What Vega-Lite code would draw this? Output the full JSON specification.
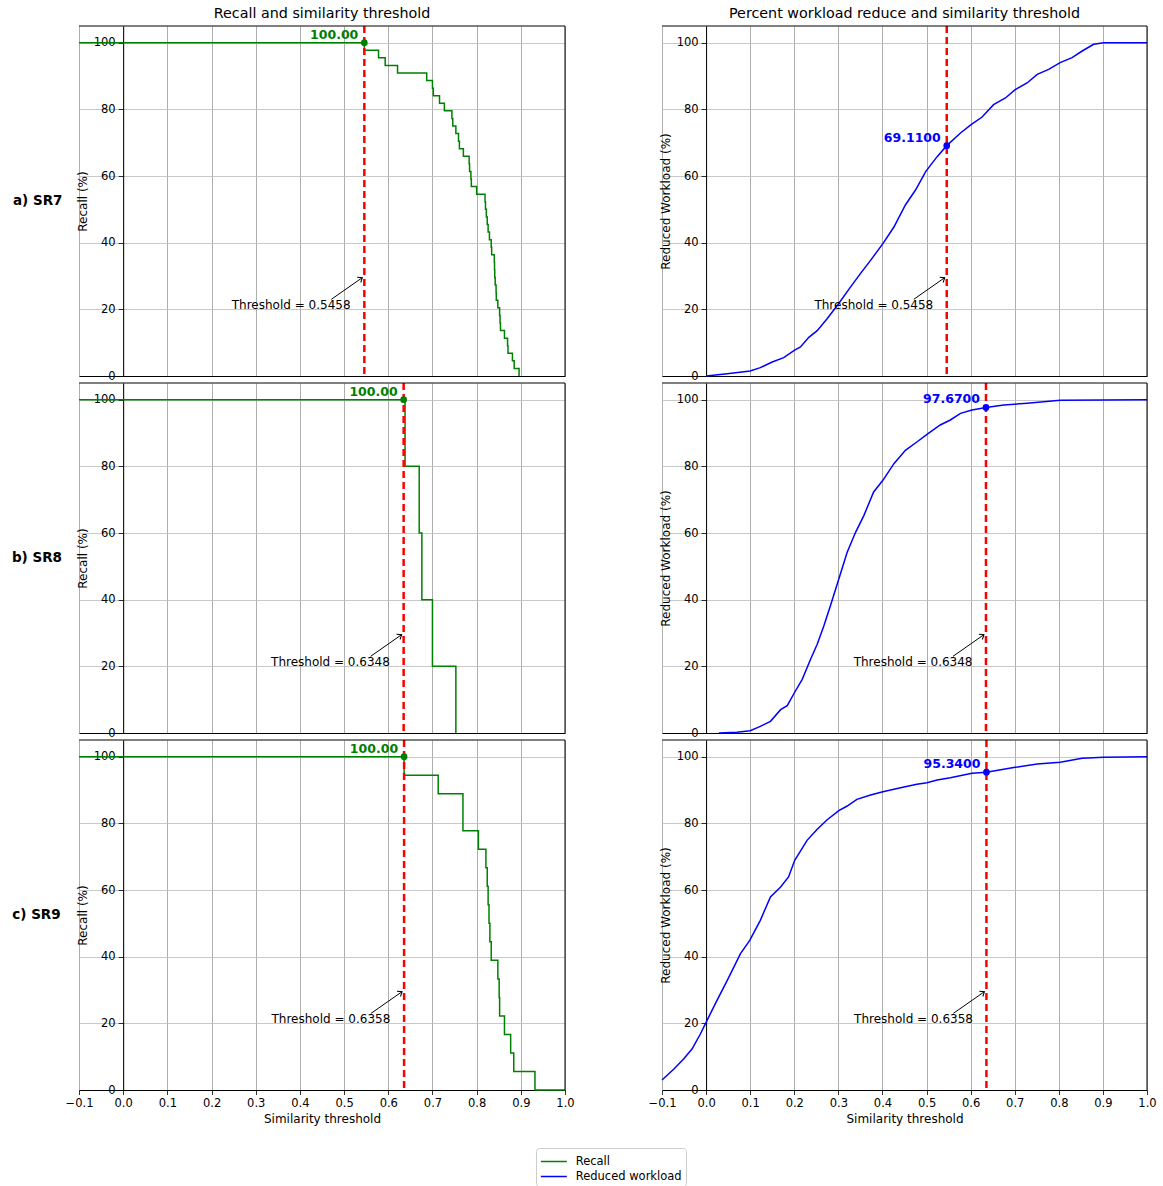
{
  "$schema": "https://vega.github.io/schema/vega-lite/v6.json",
  "padding": {"left": 11, "top": 6, "right": 8, "bottom": 5},
  "background": "white",
  "datasets": {
    "recall": [
      {"sr": "SR7", "x": -0.1, "y": 100}, {"sr": "SR7", "x": 0.5458, "y": 97.73}, {"sr": "SR7", "x": 0.578, "y": 95.45},
      {"sr": "SR7", "x": 0.593, "y": 93.18}, {"sr": "SR7", "x": 0.621, "y": 90.91}, {"sr": "SR7", "x": 0.687, "y": 88.64},
      {"sr": "SR7", "x": 0.700, "y": 86.36}, {"sr": "SR7", "x": 0.702, "y": 84.09}, {"sr": "SR7", "x": 0.716, "y": 81.82},
      {"sr": "SR7", "x": 0.727, "y": 79.55}, {"sr": "SR7", "x": 0.744, "y": 77.27}, {"sr": "SR7", "x": 0.746, "y": 75.0},
      {"sr": "SR7", "x": 0.753, "y": 72.73}, {"sr": "SR7", "x": 0.759, "y": 70.45}, {"sr": "SR7", "x": 0.761, "y": 68.18},
      {"sr": "SR7", "x": 0.770, "y": 65.91}, {"sr": "SR7", "x": 0.783, "y": 63.64}, {"sr": "SR7", "x": 0.784, "y": 61.36},
      {"sr": "SR7", "x": 0.787, "y": 59.09}, {"sr": "SR7", "x": 0.788, "y": 56.82}, {"sr": "SR7", "x": 0.800, "y": 54.55},
      {"sr": "SR7", "x": 0.819, "y": 52.27}, {"sr": "SR7", "x": 0.820, "y": 50.0}, {"sr": "SR7", "x": 0.822, "y": 47.73},
      {"sr": "SR7", "x": 0.824, "y": 45.45}, {"sr": "SR7", "x": 0.826, "y": 43.18}, {"sr": "SR7", "x": 0.829, "y": 40.91},
      {"sr": "SR7", "x": 0.833, "y": 38.64}, {"sr": "SR7", "x": 0.834, "y": 36.36}, {"sr": "SR7", "x": 0.840, "y": 34.09},
      {"sr": "SR7", "x": 0.8405, "y": 31.82}, {"sr": "SR7", "x": 0.841, "y": 29.55}, {"sr": "SR7", "x": 0.842, "y": 27.27},
      {"sr": "SR7", "x": 0.844, "y": 25.0}, {"sr": "SR7", "x": 0.8445, "y": 22.73}, {"sr": "SR7", "x": 0.848, "y": 20.45},
      {"sr": "SR7", "x": 0.852, "y": 18.18}, {"sr": "SR7", "x": 0.853, "y": 15.91}, {"sr": "SR7", "x": 0.854, "y": 13.64},
      {"sr": "SR7", "x": 0.863, "y": 11.36}, {"sr": "SR7", "x": 0.870, "y": 9.09}, {"sr": "SR7", "x": 0.871, "y": 6.82},
      {"sr": "SR7", "x": 0.881, "y": 4.55}, {"sr": "SR7", "x": 0.885, "y": 2.27}, {"sr": "SR7", "x": 0.896, "y": 0},
      {"sr": "SR8", "x": -0.1, "y": 100}, {"sr": "SR8", "x": 0.638, "y": 80}, {"sr": "SR8", "x": 0.670, "y": 60},
      {"sr": "SR8", "x": 0.676, "y": 40}, {"sr": "SR8", "x": 0.700, "y": 20}, {"sr": "SR8", "x": 0.753, "y": 0},
      {"sr": "SR9", "x": -0.1, "y": 100}, {"sr": "SR9", "x": 0.6358, "y": 94.44}, {"sr": "SR9", "x": 0.713, "y": 88.89},
      {"sr": "SR9", "x": 0.769, "y": 77.78}, {"sr": "SR9", "x": 0.804, "y": 72.22}, {"sr": "SR9", "x": 0.821, "y": 66.67},
      {"sr": "SR9", "x": 0.824, "y": 61.11}, {"sr": "SR9", "x": 0.826, "y": 55.56}, {"sr": "SR9", "x": 0.828, "y": 50.0},
      {"sr": "SR9", "x": 0.830, "y": 44.44}, {"sr": "SR9", "x": 0.833, "y": 38.89}, {"sr": "SR9", "x": 0.848, "y": 33.33},
      {"sr": "SR9", "x": 0.851, "y": 27.78}, {"sr": "SR9", "x": 0.852, "y": 22.22}, {"sr": "SR9", "x": 0.863, "y": 16.67},
      {"sr": "SR9", "x": 0.877, "y": 11.11}, {"sr": "SR9", "x": 0.884, "y": 5.56}, {"sr": "SR9", "x": 0.932, "y": 0},
      {"sr": "SR9", "x": 1.0, "y": 0}
    ],
    "work": [
      {"sr": "SR7", "x": 0.0, "y": 0}, {"sr": "SR7", "x": 0.048, "y": 0.7}, {"sr": "SR7", "x": 0.1, "y": 1.5},
      {"sr": "SR7", "x": 0.123, "y": 2.5}, {"sr": "SR7", "x": 0.15, "y": 4.2}, {"sr": "SR7", "x": 0.176, "y": 5.5},
      {"sr": "SR7", "x": 0.2, "y": 7.7}, {"sr": "SR7", "x": 0.214, "y": 8.7}, {"sr": "SR7", "x": 0.233, "y": 11.6},
      {"sr": "SR7", "x": 0.252, "y": 13.6}, {"sr": "SR7", "x": 0.274, "y": 17.1}, {"sr": "SR7", "x": 0.3, "y": 21.6},
      {"sr": "SR7", "x": 0.327, "y": 26.6}, {"sr": "SR7", "x": 0.35, "y": 30.7}, {"sr": "SR7", "x": 0.373, "y": 34.7},
      {"sr": "SR7", "x": 0.401, "y": 39.7}, {"sr": "SR7", "x": 0.426, "y": 44.7}, {"sr": "SR7", "x": 0.452, "y": 51.3},
      {"sr": "SR7", "x": 0.475, "y": 55.8}, {"sr": "SR7", "x": 0.498, "y": 61.3}, {"sr": "SR7", "x": 0.524, "y": 65.8},
      {"sr": "SR7", "x": 0.5458, "y": 69.11}, {"sr": "SR7", "x": 0.577, "y": 72.9}, {"sr": "SR7", "x": 0.601, "y": 75.4},
      {"sr": "SR7", "x": 0.626, "y": 77.7}, {"sr": "SR7", "x": 0.652, "y": 81.4}, {"sr": "SR7", "x": 0.679, "y": 83.4},
      {"sr": "SR7", "x": 0.701, "y": 85.9}, {"sr": "SR7", "x": 0.728, "y": 87.9}, {"sr": "SR7", "x": 0.751, "y": 90.5},
      {"sr": "SR7", "x": 0.777, "y": 92.0}, {"sr": "SR7", "x": 0.803, "y": 94.0}, {"sr": "SR7", "x": 0.83, "y": 95.5},
      {"sr": "SR7", "x": 0.853, "y": 97.5}, {"sr": "SR7", "x": 0.879, "y": 99.5}, {"sr": "SR7", "x": 0.902, "y": 100},
      {"sr": "SR7", "x": 1.0, "y": 100},
      {"sr": "SR8", "x": 0.029, "y": 0}, {"sr": "SR8", "x": 0.07, "y": 0.2}, {"sr": "SR8", "x": 0.1, "y": 0.7},
      {"sr": "SR8", "x": 0.123, "y": 2.0}, {"sr": "SR8", "x": 0.146, "y": 3.5}, {"sr": "SR8", "x": 0.169, "y": 7.0},
      {"sr": "SR8", "x": 0.184, "y": 8.2}, {"sr": "SR8", "x": 0.2, "y": 12.0}, {"sr": "SR8", "x": 0.218, "y": 16.1},
      {"sr": "SR8", "x": 0.237, "y": 22.1}, {"sr": "SR8", "x": 0.252, "y": 26.6}, {"sr": "SR8", "x": 0.267, "y": 32.1},
      {"sr": "SR8", "x": 0.282, "y": 38.2}, {"sr": "SR8", "x": 0.301, "y": 46.2}, {"sr": "SR8", "x": 0.32, "y": 54.2},
      {"sr": "SR8", "x": 0.339, "y": 60.2}, {"sr": "SR8", "x": 0.358, "y": 65.3}, {"sr": "SR8", "x": 0.38, "y": 72.3},
      {"sr": "SR8", "x": 0.401, "y": 75.8}, {"sr": "SR8", "x": 0.426, "y": 80.8}, {"sr": "SR8", "x": 0.452, "y": 84.8},
      {"sr": "SR8", "x": 0.478, "y": 87.3}, {"sr": "SR8", "x": 0.501, "y": 89.6}, {"sr": "SR8", "x": 0.531, "y": 92.4},
      {"sr": "SR8", "x": 0.554, "y": 93.9}, {"sr": "SR8", "x": 0.577, "y": 95.9}, {"sr": "SR8", "x": 0.603, "y": 96.9},
      {"sr": "SR8", "x": 0.6348, "y": 97.67}, {"sr": "SR8", "x": 0.675, "y": 98.4}, {"sr": "SR8", "x": 0.728, "y": 98.9},
      {"sr": "SR8", "x": 0.803, "y": 99.8}, {"sr": "SR8", "x": 1.0, "y": 100},
      {"sr": "SR9", "x": -0.1, "y": 3.0}, {"sr": "SR9", "x": -0.073, "y": 6.3}, {"sr": "SR9", "x": -0.051, "y": 9.3},
      {"sr": "SR9", "x": -0.032, "y": 12.3}, {"sr": "SR9", "x": -0.013, "y": 16.8}, {"sr": "SR9", "x": 0.0, "y": 20.3},
      {"sr": "SR9", "x": 0.021, "y": 25.9}, {"sr": "SR9", "x": 0.048, "y": 32.9}, {"sr": "SR9", "x": 0.078, "y": 40.9},
      {"sr": "SR9", "x": 0.099, "y": 44.9}, {"sr": "SR9", "x": 0.123, "y": 50.9}, {"sr": "SR9", "x": 0.146, "y": 57.9},
      {"sr": "SR9", "x": 0.169, "y": 60.9}, {"sr": "SR9", "x": 0.187, "y": 63.9}, {"sr": "SR9", "x": 0.201, "y": 68.9},
      {"sr": "SR9", "x": 0.229, "y": 74.9}, {"sr": "SR9", "x": 0.252, "y": 78.2}, {"sr": "SR9", "x": 0.274, "y": 81.0},
      {"sr": "SR9", "x": 0.301, "y": 83.8}, {"sr": "SR9", "x": 0.32, "y": 85.2}, {"sr": "SR9", "x": 0.342, "y": 87.2},
      {"sr": "SR9", "x": 0.373, "y": 88.5}, {"sr": "SR9", "x": 0.401, "y": 89.5}, {"sr": "SR9", "x": 0.441, "y": 90.7},
      {"sr": "SR9", "x": 0.478, "y": 91.7}, {"sr": "SR9", "x": 0.501, "y": 92.2}, {"sr": "SR9", "x": 0.524, "y": 93.0},
      {"sr": "SR9", "x": 0.554, "y": 93.7}, {"sr": "SR9", "x": 0.603, "y": 95.0}, {"sr": "SR9", "x": 0.6358, "y": 95.34},
      {"sr": "SR9", "x": 0.701, "y": 96.8}, {"sr": "SR9", "x": 0.751, "y": 97.8}, {"sr": "SR9", "x": 0.803, "y": 98.3},
      {"sr": "SR9", "x": 0.853, "y": 99.5}, {"sr": "SR9", "x": 0.902, "y": 99.8}, {"sr": "SR9", "x": 1.0, "y": 100}
    ],
    "thr": [
      {"sr": "SR7", "thr": 0.5458, "recall": 100, "work": 69.11, "label": "Threshold = 0.5458", "rtext": "100.00", "wtext": "69.1100"},
      {"sr": "SR8", "thr": 0.6348, "recall": 100, "work": 97.67, "label": "Threshold = 0.6348", "rtext": "100.00", "wtext": "97.6700"},
      {"sr": "SR9", "thr": 0.6358, "recall": 100, "work": 95.34, "label": "Threshold = 0.6358", "rtext": "100.00", "wtext": "95.3400"}
    ]
  },
  "columns": 2,
  "spacing": {"row": 7, "column": 97},
  "bounds": "flush",
  "concat": [
    {"width": 486, "height": 1, "data": {"values": []}, "mark": "point", "title": {"text": "Recall and similarity threshold", "offset": -3, "anchor": "middle"}},
    {"width": 485, "height": 1, "data": {"values": []}, "mark": "point", "title": {"text": "Percent workload reduce and similarity threshold", "offset": -3, "anchor": "middle"}},

    {"width": 486, "height": 350,
     "title": {"text": "a) SR7", "orient": "left", "angle": 0, "align": "right", "baseline": "middle", "anchor": "middle", "frame": "group", "offset": -36, "fontWeight": "bold", "fontSize": 13.5},
     "layer": [
      {"data": {"name": "recall"}, "transform": [{"filter": "datum.sr == 'SR7'"}],
       "mark": {"type": "line", "interpolate": "step-after", "strokeWidth": 1.5},
       "encoding": {
        "x": {"field": "x", "type": "quantitative", "scale": {"domain": [-0.1, 1.0], "nice": false, "zero": false},
              "axis": {"values": [-0.1,-0.05,0,0.05,0.1,0.15,0.2,0.25,0.3,0.35,0.4,0.45,0.5,0.55,0.6,0.65,0.7,0.75,0.8,0.85,0.9,0.95,1], "labels": false, "ticks": false, "title": null,
                       "gridDash": {"condition": {"test": "round(abs(datum.value)*20) % 2 == 1", "value": [1.5, 1.5]}, "value": []},
                       "gridColor": {"condition": {"test": "round(abs(datum.value)*20) % 2 == 1", "value": "#cccccc"}, "value": "#999999"}}},
        "y": {"field": "y", "type": "quantitative", "scale": {"domain": [0, 105], "nice": false},
              "axis": {"values": [0,10,20,30,40,50,60,70,80,90,100], "labelExpr": "datum.value % 20 == 0 ? datum.label : ''", "offset": -44.18, "title": "Recall (%)",
                       "gridDash": {"condition": {"test": "datum.value % 20 != 0", "value": [1.5, 1.5]}, "value": []},
                       "gridColor": {"condition": {"test": "datum.value % 20 != 0", "value": "#cccccc"}, "value": "#bbbbbb"},
                       "tickSize": {"condition": {"test": "datum.value % 20 != 0", "value": 3}, "value": 5}}},
        "color": {"datum": "Recall", "scale": {"domain": ["Recall", "Reduced workload"], "range": ["green", "blue"]},
                  "legend": {"orient": "none", "legendX": 457, "legendY": 1130, "title": null, "symbolType": "M-1,0L2,0", "symbolStrokeWidth": 1.5, "symbolSize": 300, "labelFontSize": 11.5, "labelFont": "DejaVu Sans", "strokeColor": "#cccccc", "fillColor": "#ffffff", "padding": 4, "cornerRadius": 3, "rowPadding": 0, "labelOffset": 16.7}}
       }},
      {"data": {"name": "thr"}, "transform": [{"filter": "datum.sr == 'SR7'"}], "mark": {"type": "rule", "color": "red", "strokeWidth": 2.5, "strokeDash": [7, 4]}, "encoding": {"x": {"field": "thr", "type": "quantitative"}}},
      {"data": {"name": "thr"}, "transform": [{"filter": "datum.sr == 'SR7'"}], "mark": {"type": "point", "filled": true, "color": "green", "size": 45, "opacity": 1}, "encoding": {"x": {"field": "thr", "type": "quantitative"}, "y": {"field": "recall", "type": "quantitative"}}},
      {"data": {"name": "thr"}, "transform": [{"filter": "datum.sr == 'SR7'"}], "mark": {"type": "text", "align": "right", "baseline": "middle", "dx": -6, "dy": -8, "fontSize": 12.5, "fontWeight": "bold", "color": "green"}, "encoding": {"x": {"field": "thr", "type": "quantitative"}, "y": {"field": "recall", "type": "quantitative"}, "text": {"field": "rtext"}}},
      {"data": {"name": "thr"}, "transform": [{"filter": "datum.sr == 'SR7'"}], "mark": {"type": "rule", "color": "black", "strokeWidth": 1, "xOffset": -33, "x2Offset": -2}, "encoding": {"x": {"field": "thr", "type": "quantitative"}, "x2": {"field": "thr"}, "y": {"datum": 23, "type": "quantitative"}, "y2": {"datum": 29.5}}},
      {"data": {"name": "thr"}, "transform": [{"filter": "datum.sr == 'SR7'"}], "mark": {"type": "point", "shape": "M-0.7,0.9L0,0L0.7,0.9", "filled": false, "color": "black", "strokeWidth": 1, "size": 80, "angle": 56, "xOffset": -2, "opacity": 1}, "encoding": {"x": {"field": "thr", "type": "quantitative"}, "y": {"datum": 29.5, "type": "quantitative"}}},
      {"data": {"name": "thr"}, "transform": [{"filter": "datum.sr == 'SR7'"}], "mark": {"type": "text", "align": "left", "baseline": "alphabetic", "dx": -132.6, "fontSize": 12, "color": "black"}, "encoding": {"x": {"field": "thr", "type": "quantitative"}, "y": {"datum": 20, "type": "quantitative"}, "text": {"field": "label"}}},
      {"data": {"values": [{}]}, "mark": {"type": "rule", "color": "black", "strokeWidth": 1}, "encoding": {"y": {"datum": 105, "type": "quantitative"}}},
      {"data": {"values": [{}]}, "mark": {"type": "rule", "color": "black", "strokeWidth": 1}, "encoding": {"x": {"datum": 1.0, "type": "quantitative"}}}
     ]},

    {"width": 485, "height": 350,
     "layer": [
      {"data": {"name": "work"}, "transform": [{"filter": "datum.sr == 'SR7'"}],
       "mark": {"type": "line", "strokeWidth": 1.5},
       "encoding": {
        "x": {"field": "x", "type": "quantitative", "scale": {"domain": [-0.1, 1.0], "nice": false, "zero": false},
              "axis": {"values": [-0.1,-0.05,0,0.05,0.1,0.15,0.2,0.25,0.3,0.35,0.4,0.45,0.5,0.55,0.6,0.65,0.7,0.75,0.8,0.85,0.9,0.95,1], "labels": false, "ticks": false, "title": null,
                       "gridDash": {"condition": {"test": "round(abs(datum.value)*20) % 2 == 1", "value": [1.5, 1.5]}, "value": []},
                       "gridColor": {"condition": {"test": "round(abs(datum.value)*20) % 2 == 1", "value": "#cccccc"}, "value": "#999999"}}},
        "y": {"field": "y", "type": "quantitative", "scale": {"domain": [0, 105], "nice": false},
              "axis": {"values": [0,10,20,30,40,50,60,70,80,90,100], "labelExpr": "datum.value % 20 == 0 ? datum.label : ''", "offset": -44.09, "title": "Reduced Workload (%)",
                       "gridDash": {"condition": {"test": "datum.value % 20 != 0", "value": [1.5, 1.5]}, "value": []},
                       "gridColor": {"condition": {"test": "datum.value % 20 != 0", "value": "#cccccc"}, "value": "#bbbbbb"},
                       "tickSize": {"condition": {"test": "datum.value % 20 != 0", "value": 3}, "value": 5}}},
        "color": {"datum": "Reduced workload", "scale": {"domain": ["Recall", "Reduced workload"], "range": ["green", "blue"]},
                  "legend": {"orient": "none", "legendX": 457, "legendY": 1130, "title": null, "symbolType": "M-1,0L2,0", "symbolStrokeWidth": 1.5, "symbolSize": 300, "labelFontSize": 11.5, "labelFont": "DejaVu Sans", "strokeColor": "#cccccc", "fillColor": "#ffffff", "padding": 4, "cornerRadius": 3, "rowPadding": 0, "labelOffset": 16.7}}
       }},
      {"data": {"name": "thr"}, "transform": [{"filter": "datum.sr == 'SR7'"}], "mark": {"type": "rule", "color": "red", "strokeWidth": 2.5, "strokeDash": [7, 4]}, "encoding": {"x": {"field": "thr", "type": "quantitative"}}},
      {"data": {"name": "thr"}, "transform": [{"filter": "datum.sr == 'SR7'"}], "mark": {"type": "point", "filled": true, "color": "blue", "size": 45, "opacity": 1}, "encoding": {"x": {"field": "thr", "type": "quantitative"}, "y": {"field": "work", "type": "quantitative"}}},
      {"data": {"name": "thr"}, "transform": [{"filter": "datum.sr == 'SR7'"}], "mark": {"type": "text", "align": "right", "baseline": "middle", "dx": -6, "dy": -8, "fontSize": 12.5, "fontWeight": "bold", "color": "blue"}, "encoding": {"x": {"field": "thr", "type": "quantitative"}, "y": {"field": "work", "type": "quantitative"}, "text": {"field": "wtext"}}},
      {"data": {"name": "thr"}, "transform": [{"filter": "datum.sr == 'SR7'"}], "mark": {"type": "rule", "color": "black", "strokeWidth": 1, "xOffset": -33, "x2Offset": -2}, "encoding": {"x": {"field": "thr", "type": "quantitative"}, "x2": {"field": "thr"}, "y": {"datum": 23, "type": "quantitative"}, "y2": {"datum": 29.5}}},
      {"data": {"name": "thr"}, "transform": [{"filter": "datum.sr == 'SR7'"}], "mark": {"type": "point", "shape": "M-0.7,0.9L0,0L0.7,0.9", "filled": false, "color": "black", "strokeWidth": 1, "size": 80, "angle": 56, "xOffset": -2, "opacity": 1}, "encoding": {"x": {"field": "thr", "type": "quantitative"}, "y": {"datum": 29.5, "type": "quantitative"}}},
      {"data": {"name": "thr"}, "transform": [{"filter": "datum.sr == 'SR7'"}], "mark": {"type": "text", "align": "left", "baseline": "alphabetic", "dx": -132.3, "fontSize": 12, "color": "black"}, "encoding": {"x": {"field": "thr", "type": "quantitative"}, "y": {"datum": 20, "type": "quantitative"}, "text": {"field": "label"}}},
      {"data": {"values": [{}]}, "mark": {"type": "rule", "color": "black", "strokeWidth": 1}, "encoding": {"y": {"datum": 105, "type": "quantitative"}}},
      {"data": {"values": [{}]}, "mark": {"type": "rule", "color": "black", "strokeWidth": 1}, "encoding": {"x": {"datum": 1.0, "type": "quantitative"}}}
     ]},

    {"width": 486, "height": 350,
     "title": {"text": "b) SR8", "orient": "left", "angle": 0, "align": "right", "baseline": "middle", "anchor": "middle", "frame": "group", "offset": -36, "fontWeight": "bold", "fontSize": 13.5},
     "layer": [
      {"data": {"name": "recall"}, "transform": [{"filter": "datum.sr == 'SR8'"}],
       "mark": {"type": "line", "interpolate": "step-after", "strokeWidth": 1.5},
       "encoding": {
        "x": {"field": "x", "type": "quantitative", "scale": {"domain": [-0.1, 1.0], "nice": false, "zero": false},
              "axis": {"values": [-0.1,-0.05,0,0.05,0.1,0.15,0.2,0.25,0.3,0.35,0.4,0.45,0.5,0.55,0.6,0.65,0.7,0.75,0.8,0.85,0.9,0.95,1], "labels": false, "ticks": false, "title": null,
                       "gridDash": {"condition": {"test": "round(abs(datum.value)*20) % 2 == 1", "value": [1.5, 1.5]}, "value": []},
                       "gridColor": {"condition": {"test": "round(abs(datum.value)*20) % 2 == 1", "value": "#cccccc"}, "value": "#999999"}}},
        "y": {"field": "y", "type": "quantitative", "scale": {"domain": [0, 105], "nice": false},
              "axis": {"values": [0,10,20,30,40,50,60,70,80,90,100], "labelExpr": "datum.value % 20 == 0 ? datum.label : ''", "offset": -44.18, "title": "Recall (%)",
                       "gridDash": {"condition": {"test": "datum.value % 20 != 0", "value": [1.5, 1.5]}, "value": []},
                       "gridColor": {"condition": {"test": "datum.value % 20 != 0", "value": "#cccccc"}, "value": "#bbbbbb"},
                       "tickSize": {"condition": {"test": "datum.value % 20 != 0", "value": 3}, "value": 5}}},
        "color": {"datum": "Recall", "scale": {"domain": ["Recall", "Reduced workload"], "range": ["green", "blue"]},
                  "legend": {"orient": "none", "legendX": 457, "legendY": 1130, "title": null, "symbolType": "M-1,0L2,0", "symbolStrokeWidth": 1.5, "symbolSize": 300, "labelFontSize": 11.5, "labelFont": "DejaVu Sans", "strokeColor": "#cccccc", "fillColor": "#ffffff", "padding": 4, "cornerRadius": 3, "rowPadding": 0, "labelOffset": 16.7}}
       }},
      {"data": {"name": "thr"}, "transform": [{"filter": "datum.sr == 'SR8'"}], "mark": {"type": "rule", "color": "red", "strokeWidth": 2.5, "strokeDash": [7, 4]}, "encoding": {"x": {"field": "thr", "type": "quantitative"}}},
      {"data": {"name": "thr"}, "transform": [{"filter": "datum.sr == 'SR8'"}], "mark": {"type": "point", "filled": true, "color": "green", "size": 45, "opacity": 1}, "encoding": {"x": {"field": "thr", "type": "quantitative"}, "y": {"field": "recall", "type": "quantitative"}}},
      {"data": {"name": "thr"}, "transform": [{"filter": "datum.sr == 'SR8'"}], "mark": {"type": "text", "align": "right", "baseline": "middle", "dx": -6, "dy": -8, "fontSize": 12.5, "fontWeight": "bold", "color": "green"}, "encoding": {"x": {"field": "thr", "type": "quantitative"}, "y": {"field": "recall", "type": "quantitative"}, "text": {"field": "rtext"}}},
      {"data": {"name": "thr"}, "transform": [{"filter": "datum.sr == 'SR8'"}], "mark": {"type": "rule", "color": "black", "strokeWidth": 1, "xOffset": -33, "x2Offset": -2}, "encoding": {"x": {"field": "thr", "type": "quantitative"}, "x2": {"field": "thr"}, "y": {"datum": 23, "type": "quantitative"}, "y2": {"datum": 29.5}}},
      {"data": {"name": "thr"}, "transform": [{"filter": "datum.sr == 'SR8'"}], "mark": {"type": "point", "shape": "M-0.7,0.9L0,0L0.7,0.9", "filled": false, "color": "black", "strokeWidth": 1, "size": 80, "angle": 56, "xOffset": -2, "opacity": 1}, "encoding": {"x": {"field": "thr", "type": "quantitative"}, "y": {"datum": 29.5, "type": "quantitative"}}},
      {"data": {"name": "thr"}, "transform": [{"filter": "datum.sr == 'SR8'"}], "mark": {"type": "text", "align": "left", "baseline": "alphabetic", "dx": -132.6, "fontSize": 12, "color": "black"}, "encoding": {"x": {"field": "thr", "type": "quantitative"}, "y": {"datum": 20, "type": "quantitative"}, "text": {"field": "label"}}},
      {"data": {"values": [{}]}, "mark": {"type": "rule", "color": "black", "strokeWidth": 1}, "encoding": {"y": {"datum": 105, "type": "quantitative"}}},
      {"data": {"values": [{}]}, "mark": {"type": "rule", "color": "black", "strokeWidth": 1}, "encoding": {"x": {"datum": 1.0, "type": "quantitative"}}}
     ]},

    {"width": 485, "height": 350,
     "layer": [
      {"data": {"name": "work"}, "transform": [{"filter": "datum.sr == 'SR8'"}],
       "mark": {"type": "line", "strokeWidth": 1.5},
       "encoding": {
        "x": {"field": "x", "type": "quantitative", "scale": {"domain": [-0.1, 1.0], "nice": false, "zero": false},
              "axis": {"values": [-0.1,-0.05,0,0.05,0.1,0.15,0.2,0.25,0.3,0.35,0.4,0.45,0.5,0.55,0.6,0.65,0.7,0.75,0.8,0.85,0.9,0.95,1], "labels": false, "ticks": false, "title": null,
                       "gridDash": {"condition": {"test": "round(abs(datum.value)*20) % 2 == 1", "value": [1.5, 1.5]}, "value": []},
                       "gridColor": {"condition": {"test": "round(abs(datum.value)*20) % 2 == 1", "value": "#cccccc"}, "value": "#999999"}}},
        "y": {"field": "y", "type": "quantitative", "scale": {"domain": [0, 105], "nice": false},
              "axis": {"values": [0,10,20,30,40,50,60,70,80,90,100], "labelExpr": "datum.value % 20 == 0 ? datum.label : ''", "offset": -44.09, "title": "Reduced Workload (%)",
                       "gridDash": {"condition": {"test": "datum.value % 20 != 0", "value": [1.5, 1.5]}, "value": []},
                       "gridColor": {"condition": {"test": "datum.value % 20 != 0", "value": "#cccccc"}, "value": "#bbbbbb"},
                       "tickSize": {"condition": {"test": "datum.value % 20 != 0", "value": 3}, "value": 5}}},
        "color": {"datum": "Reduced workload", "scale": {"domain": ["Recall", "Reduced workload"], "range": ["green", "blue"]},
                  "legend": {"orient": "none", "legendX": 457, "legendY": 1130, "title": null, "symbolType": "M-1,0L2,0", "symbolStrokeWidth": 1.5, "symbolSize": 300, "labelFontSize": 11.5, "labelFont": "DejaVu Sans", "strokeColor": "#cccccc", "fillColor": "#ffffff", "padding": 4, "cornerRadius": 3, "rowPadding": 0, "labelOffset": 16.7}}
       }},
      {"data": {"name": "thr"}, "transform": [{"filter": "datum.sr == 'SR8'"}], "mark": {"type": "rule", "color": "red", "strokeWidth": 2.5, "strokeDash": [7, 4]}, "encoding": {"x": {"field": "thr", "type": "quantitative"}}},
      {"data": {"name": "thr"}, "transform": [{"filter": "datum.sr == 'SR8'"}], "mark": {"type": "point", "filled": true, "color": "blue", "size": 45, "opacity": 1}, "encoding": {"x": {"field": "thr", "type": "quantitative"}, "y": {"field": "work", "type": "quantitative"}}},
      {"data": {"name": "thr"}, "transform": [{"filter": "datum.sr == 'SR8'"}], "mark": {"type": "text", "align": "right", "baseline": "middle", "dx": -6, "dy": -8, "fontSize": 12.5, "fontWeight": "bold", "color": "blue"}, "encoding": {"x": {"field": "thr", "type": "quantitative"}, "y": {"field": "work", "type": "quantitative"}, "text": {"field": "wtext"}}},
      {"data": {"name": "thr"}, "transform": [{"filter": "datum.sr == 'SR8'"}], "mark": {"type": "rule", "color": "black", "strokeWidth": 1, "xOffset": -33, "x2Offset": -2}, "encoding": {"x": {"field": "thr", "type": "quantitative"}, "x2": {"field": "thr"}, "y": {"datum": 23, "type": "quantitative"}, "y2": {"datum": 29.5}}},
      {"data": {"name": "thr"}, "transform": [{"filter": "datum.sr == 'SR8'"}], "mark": {"type": "point", "shape": "M-0.7,0.9L0,0L0.7,0.9", "filled": false, "color": "black", "strokeWidth": 1, "size": 80, "angle": 56, "xOffset": -2, "opacity": 1}, "encoding": {"x": {"field": "thr", "type": "quantitative"}, "y": {"datum": 29.5, "type": "quantitative"}}},
      {"data": {"name": "thr"}, "transform": [{"filter": "datum.sr == 'SR8'"}], "mark": {"type": "text", "align": "left", "baseline": "alphabetic", "dx": -132.3, "fontSize": 12, "color": "black"}, "encoding": {"x": {"field": "thr", "type": "quantitative"}, "y": {"datum": 20, "type": "quantitative"}, "text": {"field": "label"}}},
      {"data": {"values": [{}]}, "mark": {"type": "rule", "color": "black", "strokeWidth": 1}, "encoding": {"y": {"datum": 105, "type": "quantitative"}}},
      {"data": {"values": [{}]}, "mark": {"type": "rule", "color": "black", "strokeWidth": 1}, "encoding": {"x": {"datum": 1.0, "type": "quantitative"}}}
     ]},

    {"width": 486, "height": 350,
     "title": {"text": "c) SR9", "orient": "left", "angle": 0, "align": "right", "baseline": "middle", "anchor": "middle", "frame": "group", "offset": -44, "fontWeight": "bold", "fontSize": 13.5},
     "layer": [
      {"data": {"name": "recall"}, "transform": [{"filter": "datum.sr == 'SR9'"}],
       "mark": {"type": "line", "interpolate": "step-after", "strokeWidth": 1.5},
       "encoding": {
        "x": {"field": "x", "type": "quantitative", "scale": {"domain": [-0.1, 1.0], "nice": false, "zero": false},
              "axis": {"values": [-0.1,-0.05,0,0.05,0.1,0.15,0.2,0.25,0.3,0.35,0.4,0.45,0.5,0.55,0.6,0.65,0.7,0.75,0.8,0.85,0.9,0.95,1], "format": ".1f", "labelExpr": "round(abs(datum.value)*20) % 2 == 0 ? datum.label : ''", "labelFlush": false, "title": "Similarity threshold",
                       "gridDash": {"condition": {"test": "round(abs(datum.value)*20) % 2 == 1", "value": [1.5, 1.5]}, "value": []},
                       "gridColor": {"condition": {"test": "round(abs(datum.value)*20) % 2 == 1", "value": "#cccccc"}, "value": "#999999"},
                       "tickSize": {"condition": {"test": "round(abs(datum.value)*20) % 2 == 1", "value": 2.5}, "value": 4.5}}},
        "y": {"field": "y", "type": "quantitative", "scale": {"domain": [0, 105], "nice": false},
              "axis": {"values": [0,10,20,30,40,50,60,70,80,90,100], "labelExpr": "datum.value % 20 == 0 ? datum.label : ''", "offset": -44.18, "title": "Recall (%)",
                       "gridDash": {"condition": {"test": "datum.value % 20 != 0", "value": [1.5, 1.5]}, "value": []},
                       "gridColor": {"condition": {"test": "datum.value % 20 != 0", "value": "#cccccc"}, "value": "#bbbbbb"},
                       "tickSize": {"condition": {"test": "datum.value % 20 != 0", "value": 3}, "value": 5}}},
        "color": {"datum": "Recall", "scale": {"domain": ["Recall", "Reduced workload"], "range": ["green", "blue"]},
                  "legend": {"orient": "none", "legendX": 457, "legendY": 1130, "title": null, "symbolType": "M-1,0L2,0", "symbolStrokeWidth": 1.5, "symbolSize": 300, "labelFontSize": 11.5, "labelFont": "DejaVu Sans", "strokeColor": "#cccccc", "fillColor": "#ffffff", "padding": 4, "cornerRadius": 3, "rowPadding": 0, "labelOffset": 16.7}}
       }},
      {"data": {"name": "thr"}, "transform": [{"filter": "datum.sr == 'SR9'"}], "mark": {"type": "rule", "color": "red", "strokeWidth": 2.5, "strokeDash": [7, 4]}, "encoding": {"x": {"field": "thr", "type": "quantitative"}}},
      {"data": {"name": "thr"}, "transform": [{"filter": "datum.sr == 'SR9'"}], "mark": {"type": "point", "filled": true, "color": "green", "size": 45, "opacity": 1}, "encoding": {"x": {"field": "thr", "type": "quantitative"}, "y": {"field": "recall", "type": "quantitative"}}},
      {"data": {"name": "thr"}, "transform": [{"filter": "datum.sr == 'SR9'"}], "mark": {"type": "text", "align": "right", "baseline": "middle", "dx": -6, "dy": -8, "fontSize": 12.5, "fontWeight": "bold", "color": "green"}, "encoding": {"x": {"field": "thr", "type": "quantitative"}, "y": {"field": "recall", "type": "quantitative"}, "text": {"field": "rtext"}}},
      {"data": {"name": "thr"}, "transform": [{"filter": "datum.sr == 'SR9'"}], "mark": {"type": "rule", "color": "black", "strokeWidth": 1, "xOffset": -33, "x2Offset": -2}, "encoding": {"x": {"field": "thr", "type": "quantitative"}, "x2": {"field": "thr"}, "y": {"datum": 23, "type": "quantitative"}, "y2": {"datum": 29.5}}},
      {"data": {"name": "thr"}, "transform": [{"filter": "datum.sr == 'SR9'"}], "mark": {"type": "point", "shape": "M-0.7,0.9L0,0L0.7,0.9", "filled": false, "color": "black", "strokeWidth": 1, "size": 80, "angle": 56, "xOffset": -2, "opacity": 1}, "encoding": {"x": {"field": "thr", "type": "quantitative"}, "y": {"datum": 29.5, "type": "quantitative"}}},
      {"data": {"name": "thr"}, "transform": [{"filter": "datum.sr == 'SR9'"}], "mark": {"type": "text", "align": "left", "baseline": "alphabetic", "dx": -132.6, "fontSize": 12, "color": "black"}, "encoding": {"x": {"field": "thr", "type": "quantitative"}, "y": {"datum": 20, "type": "quantitative"}, "text": {"field": "label"}}},
      {"data": {"values": [{}]}, "mark": {"type": "rule", "color": "black", "strokeWidth": 1}, "encoding": {"y": {"datum": 105, "type": "quantitative"}}},
      {"data": {"values": [{}]}, "mark": {"type": "rule", "color": "black", "strokeWidth": 1}, "encoding": {"x": {"datum": 1.0, "type": "quantitative"}}}
     ]},

    {"width": 485, "height": 350,
     "layer": [
      {"data": {"name": "work"}, "transform": [{"filter": "datum.sr == 'SR9'"}],
       "mark": {"type": "line", "strokeWidth": 1.5},
       "encoding": {
        "x": {"field": "x", "type": "quantitative", "scale": {"domain": [-0.1, 1.0], "nice": false, "zero": false},
              "axis": {"values": [-0.1,-0.05,0,0.05,0.1,0.15,0.2,0.25,0.3,0.35,0.4,0.45,0.5,0.55,0.6,0.65,0.7,0.75,0.8,0.85,0.9,0.95,1], "format": ".1f", "labelExpr": "round(abs(datum.value)*20) % 2 == 0 ? datum.label : ''", "labelFlush": false, "title": "Similarity threshold",
                       "gridDash": {"condition": {"test": "round(abs(datum.value)*20) % 2 == 1", "value": [1.5, 1.5]}, "value": []},
                       "gridColor": {"condition": {"test": "round(abs(datum.value)*20) % 2 == 1", "value": "#cccccc"}, "value": "#999999"},
                       "tickSize": {"condition": {"test": "round(abs(datum.value)*20) % 2 == 1", "value": 2.5}, "value": 4.5}}},
        "y": {"field": "y", "type": "quantitative", "scale": {"domain": [0, 105], "nice": false},
              "axis": {"values": [0,10,20,30,40,50,60,70,80,90,100], "labelExpr": "datum.value % 20 == 0 ? datum.label : ''", "offset": -44.09, "title": "Reduced Workload (%)",
                       "gridDash": {"condition": {"test": "datum.value % 20 != 0", "value": [1.5, 1.5]}, "value": []},
                       "gridColor": {"condition": {"test": "datum.value % 20 != 0", "value": "#cccccc"}, "value": "#bbbbbb"},
                       "tickSize": {"condition": {"test": "datum.value % 20 != 0", "value": 3}, "value": 5}}},
        "color": {"datum": "Reduced workload", "scale": {"domain": ["Recall", "Reduced workload"], "range": ["green", "blue"]},
                  "legend": {"orient": "none", "legendX": 457, "legendY": 1130, "title": null, "symbolType": "M-1,0L2,0", "symbolStrokeWidth": 1.5, "symbolSize": 300, "labelFontSize": 11.5, "labelFont": "DejaVu Sans", "strokeColor": "#cccccc", "fillColor": "#ffffff", "padding": 4, "cornerRadius": 3, "rowPadding": 0, "labelOffset": 16.7}}
       }},
      {"data": {"name": "thr"}, "transform": [{"filter": "datum.sr == 'SR9'"}], "mark": {"type": "rule", "color": "red", "strokeWidth": 2.5, "strokeDash": [7, 4]}, "encoding": {"x": {"field": "thr", "type": "quantitative"}}},
      {"data": {"name": "thr"}, "transform": [{"filter": "datum.sr == 'SR9'"}], "mark": {"type": "point", "filled": true, "color": "blue", "size": 45, "opacity": 1}, "encoding": {"x": {"field": "thr", "type": "quantitative"}, "y": {"field": "work", "type": "quantitative"}}},
      {"data": {"name": "thr"}, "transform": [{"filter": "datum.sr == 'SR9'"}], "mark": {"type": "text", "align": "right", "baseline": "middle", "dx": -6, "dy": -8, "fontSize": 12.5, "fontWeight": "bold", "color": "blue"}, "encoding": {"x": {"field": "thr", "type": "quantitative"}, "y": {"field": "work", "type": "quantitative"}, "text": {"field": "wtext"}}},
      {"data": {"name": "thr"}, "transform": [{"filter": "datum.sr == 'SR9'"}], "mark": {"type": "rule", "color": "black", "strokeWidth": 1, "xOffset": -33, "x2Offset": -2}, "encoding": {"x": {"field": "thr", "type": "quantitative"}, "x2": {"field": "thr"}, "y": {"datum": 23, "type": "quantitative"}, "y2": {"datum": 29.5}}},
      {"data": {"name": "thr"}, "transform": [{"filter": "datum.sr == 'SR9'"}], "mark": {"type": "point", "shape": "M-0.7,0.9L0,0L0.7,0.9", "filled": false, "color": "black", "strokeWidth": 1, "size": 80, "angle": 56, "xOffset": -2, "opacity": 1}, "encoding": {"x": {"field": "thr", "type": "quantitative"}, "y": {"datum": 29.5, "type": "quantitative"}}},
      {"data": {"name": "thr"}, "transform": [{"filter": "datum.sr == 'SR9'"}], "mark": {"type": "text", "align": "left", "baseline": "alphabetic", "dx": -132.3, "fontSize": 12, "color": "black"}, "encoding": {"x": {"field": "thr", "type": "quantitative"}, "y": {"datum": 20, "type": "quantitative"}, "text": {"field": "label"}}},
      {"data": {"values": [{}]}, "mark": {"type": "rule", "color": "black", "strokeWidth": 1}, "encoding": {"y": {"datum": 105, "type": "quantitative"}}},
      {"data": {"values": [{}]}, "mark": {"type": "rule", "color": "black", "strokeWidth": 1}, "encoding": {"x": {"datum": 1.0, "type": "quantitative"}}}
     ]}
  ],
  "config": {
    "font": "DejaVu Sans",
    "view": {"stroke": null},
    "axis": {"labelFont": "DejaVu Sans", "labelFontSize": 11.5, "labelColor": "#000000", "titleFont": "DejaVu Sans", "titleFontSize": 12, "titleFontWeight": "normal", "titleColor": "#000000", "domainColor": "#000000", "domainWidth": 1, "tickColor": "#000000", "tickWidth": 0.8, "gridWidth": 0.8, "labelPadding": 3, "titlePadding": 4, "labelOverlap": false},
    "title": {"font": "DejaVu Sans", "fontSize": 14.3, "fontWeight": "normal", "color": "#000000"}
  }
}
